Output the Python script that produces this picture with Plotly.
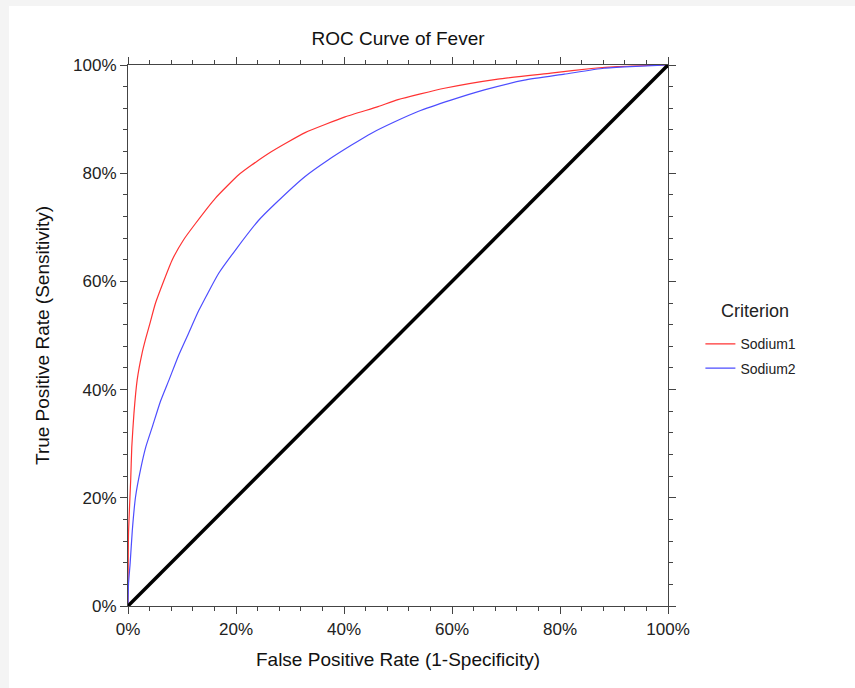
import plotly.graph_objects as go

# False positive rate (%) and true positive rate (%)
sodium1_fpr = [0, 0.1, 0.5, 0.7, 1.1, 1.7, 2.6, 3.3, 4.0, 5.1, 8.2, 10.3, 12.5, 16.2,
               20.5, 22.9, 26.6, 32.8, 40.2, 46.3, 50.0, 58.6, 68.5, 78.3, 86.3, 90.6, 100]
sodium1_tpr = [0, 13.7, 23.3, 29.4, 35.6, 41.8, 46.7, 49.5, 52.0, 56.0, 64.0, 67.7, 70.7, 75.4,
               79.7, 81.5, 84.0, 87.5, 90.4, 92.3, 93.6, 95.7, 97.4, 98.5, 99.4, 99.7, 100]

sodium2_fpr = [0, 0.1, 0.4, 0.8, 1.4, 2.3, 3.3, 4.5, 6.0, 7.6, 9.4, 11.3, 13.1, 16.8,
               19.9, 24.2, 27.3, 32.8, 37.0, 41.4, 45.1, 49.4, 53.7, 59.8, 66.0,
               73.4, 80.8, 88.1, 93.0, 100]
sodium2_tpr = [0, 4.2, 7.9, 14.0, 20.2, 25.1, 29.4, 33.1, 37.8, 41.8, 46.4, 50.6, 54.6, 61.5,
               65.8, 71.3, 74.4, 79.4, 82.4, 85.2, 87.4, 89.5, 91.4, 93.5, 95.4,
               97.2, 98.3, 99.4, 99.7, 100]

ref_x = [0, 100]
ref_y = [0, 100]

tick_vals = [0, 20, 40, 60, 80, 100]
tick_text = ["0%", "20%", "40%", "60%", "80%", "100%"]

FONT = "Liberation Sans, Arial, sans-serif"

fig = go.Figure()
fig.add_trace(go.Scatter(x=sodium1_fpr, y=sodium1_tpr, mode="lines", name="Sodium1",
                         legendgroup="a",
                         line=dict(color="#ff3333", width=1.2, shape="spline", smoothing=0.5)))
fig.add_trace(go.Scatter(x=sodium2_fpr, y=sodium2_tpr, mode="lines", name="Sodium2",
                         legendgroup="b",
                         line=dict(color="#4d4dff", width=1.2, shape="spline", smoothing=0.5)))
fig.add_trace(go.Scatter(x=ref_x, y=ref_y, mode="lines", showlegend=False,
                         line=dict(color="black", width=3.5)))

axis_common = dict(
    range=[0, 100], tickvals=tick_vals, ticktext=tick_text,
    showgrid=False, zeroline=False,
    showline=True, linecolor="#444", linewidth=1.2, mirror="allticks",
    ticks="outside", ticklen=7, tickwidth=1.2, tickcolor="#444",
    tickfont=dict(family=FONT, size=17, color="#222"),
    minor=dict(dtick=4, tick0=0, ticks="outside", ticklen=4, tickwidth=1, tickcolor="#444",
               showgrid=False),
)

fig.update_xaxes(**axis_common,
                 title=dict(text="False Positive Rate (1-Specificity)",
                            font=dict(family=FONT, size=19, color="#111"), standoff=15))
fig.update_yaxes(**axis_common,
                 title=dict(text="True Positive Rate (Sensitivity)",
                            font=dict(family=FONT, size=19, color="#111"), standoff=18))

fig.add_shape(type="rect", xref="paper", yref="paper", x0=-0.2204, x1=1.35, y0=-0.16, y1=1.109,
              fillcolor="white", line=dict(width=0), layer="below")

fig.add_annotation(text="Criterion", xref="paper", yref="paper",
                   x=(755 - 128) / 540, y=(606 - 311) / 541, xanchor="center", yanchor="middle",
                   showarrow=False, font=dict(family=FONT, size=18, color="#222"))

fig.update_layout(
    width=855, height=688,
    margin=dict(l=128, r=187, t=65, b=82),
    paper_bgcolor="#f4f4f4", plot_bgcolor="white",
    title=dict(text="ROC Curve of Fever", x=0.5, xref="paper", xanchor="center",
               y=1 - 38 / 688, yanchor="middle",
               font=dict(family=FONT, size=19, color="#111")),
    legend=dict(x=1.06, xanchor="left", y=0.5134, yanchor="top",
                font=dict(family=FONT, size=14, color="#222"),
                bgcolor="rgba(0,0,0,0)", itemwidth=30, tracegroupgap=3,
                traceorder="grouped"),
    showlegend=True,
)

fig.write_html("out.html")
